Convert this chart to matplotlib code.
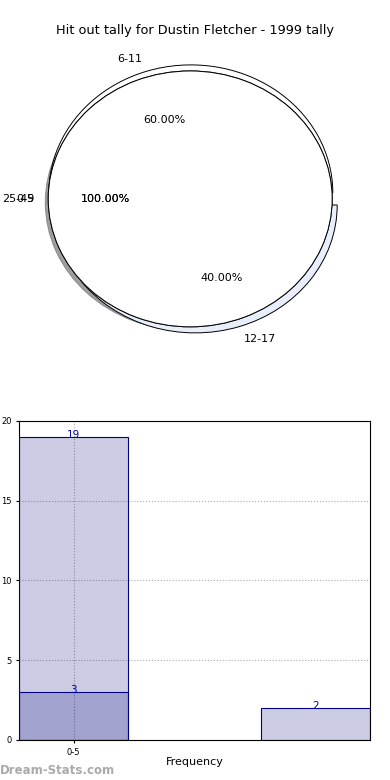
import matplotlib
matplotlib.use("Agg")
import matplotlib.pyplot as plt

# pie data (several pies drawn on top of each other, as in the source)
pie_split_labels = ["6-11", "12-17"]
pie_split_values = [60, 40]
pie_full_labels = ["0-5", "25-49"]

# bar data
bar_tick_labels = ["0-5"]
series_a_slots = [0, 2]
series_a_values = [19, 2]
series_b_slots = [0]
series_b_values = [3]

fig = plt.figure(figsize=(3.9, 7.8), dpi=100)
fig.text(0.5, 0.9615, "Hit out tally for Dustin Fletcher - 1999 tally",
         ha="center", va="center", fontsize=9.3)

# pie
ax1 = fig.add_axes([0.04, 0.54, 0.91, 0.41])
ax1.pie(pie_split_values, labels=pie_split_labels, autopct="%.2f%%",
        explode=[0.05, 0.05], colors=["white", "#e8eefc"],
        wedgeprops=dict(edgecolor="black", linewidth=0.7),
        textprops=dict(fontsize=8))
for lab in pie_full_labels:
    ax1.pie([1], labels=[lab], autopct="%.2f%%", colors=["white"],
            center=(-0.02, 0.0),
            shadow=dict(ox=-0.015, oy=-0.02, shade=0.5),
            wedgeprops=dict(edgecolor="black", linewidth=0.7),
            textprops=dict(fontsize=8))
ax1.set_aspect("auto")
ax1.set_xlim(-1.25, 1.25)
ax1.set_ylim(-1.25, 1.25)
ax1.axis("off")

# bars
ax2 = fig.add_axes([0.049, 0.0513, 0.9, 0.409])
navy = "#000080"
ax2.bar(series_a_slots, series_a_values, width=0.9, color=navy, alpha=0.2,
        edgecolor="none", zorder=2)
ax2.bar(series_a_slots, series_a_values, width=0.9, fill=False,
        edgecolor=navy, linewidth=0.8, zorder=3)
ax2.bar(series_b_slots, series_b_values, width=0.9, color=navy, alpha=0.2,
        edgecolor="none", zorder=2)
ax2.bar(series_b_slots, series_b_values, width=0.9, fill=False,
        edgecolor=navy, linewidth=0.8, zorder=3)
for x, v in zip(series_a_slots + series_b_slots, series_a_values + series_b_values):
    ax2.text(x, v + 0.15, str(v), ha="center", va="center", color="#0000aa",
             fontsize=7.5, zorder=4)

ax2.set_xlim(-0.45, 2.45)
ax2.set_ylim(0, 20)
ax2.set_xticks(range(len(bar_tick_labels)))
ax2.set_xticklabels(bar_tick_labels)
ax2.set_yticks([0, 5, 10, 15, 20])
ax2.tick_params(labelsize=6, length=2)
ax2.grid(True, linestyle=":", color="#aaaaaa", linewidth=0.8, zorder=0)
ax2.set_axisbelow(True)
ax2.set_xlabel("Frequency", fontsize=8, labelpad=0)
ax2.set_ylabel("Statistic Hits", fontsize=7)
ax2.yaxis.set_label_coords(-0.063, 0.5)

fig.text(0.0, 0.012, "Dream-Stats.com", fontsize=8.5, color="#aaaaaa",
         fontweight="bold", ha="left", va="center")

fig.savefig("out.png", dpi=100)
